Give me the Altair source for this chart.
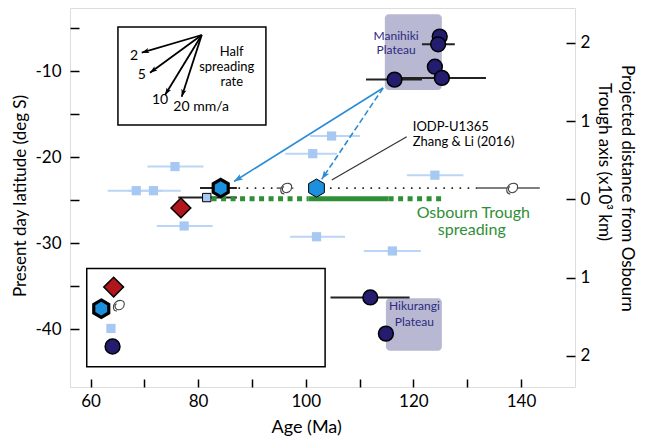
import math
import altair as alt
import pandas as pd

# ---------------- data (age in Ma, present-day latitude in deg) ----------------
man_age = [124.9, 124.6, 124.0, 125.3, 116.5]
man_lat = [-6.0, -6.9, -9.5, -10.8, -11.0]
man_bar_lat = [-6.9, -10.8, -11.0]
man_bar_lo = [121.6, 117.8, 111.2]
man_bar_hi = [127.7, 133.5, 121.6]

hik_age = [112.0, 114.9]
hik_lat = [-36.3, -40.5]
hik_bar_lat = [-36.3]
hik_bar_lo = [104.6]
hik_bar_hi = [119.3]

sq_age = [75.7, 68.5, 71.7, 77.4, 101.3, 104.8, 124.0, 102.0, 116.1]
sq_lat = [-21.1, -23.9, -23.9, -28.0, -19.6, -17.55, -22.1, -29.25, -30.9]
sq_lo = [70.6, 63.2, 67.0, 72.3, 96.2, 100.8, 118.8, 97.1, 110.8]
sq_hi = [81.0, 73.5, 76.8, 82.7, 105.8, 110.1, 129.3, 107.3, 121.4]

osq_age = [81.6]
osq_lat = [-24.7]
osq_lo = [76.3]
osq_hi = [87.2]

dia_age = [76.8]
dia_lat = [-25.9]

hex_age = [84.2, 102.0]
hex_lat = [-23.6, -23.6]
hex_bar_lo = [80.35]
hex_bar_hi = [87.2]

cell_age = [96.3, 138.3]
cell_lat = [-23.6, -23.6]
cell_lo = [94.6, 131.8]
cell_hi = [97.7, 143.5]

dot_lo = [87.5, 104.5]
dot_hi = [94.6, 131.8]
dot_lat = [-23.6, -23.6]

osb_lat = -24.85
osb_dash_lo = [82.5, 115.4]
osb_dash_hi = [100.5, 125.3]
osb_solid_lo = [100.5]
osb_solid_hi = [115.4]

plat_names = ["Manihiki", "Hikurangi"]
plat_age_lo = [114.7, 114.9]
plat_age_hi = [125.3, 125.3]
plat_lat_top = [-3.4, -36.4]
plat_lat_bot = [-12.2, -42.5]

box_age_lo = [65.1, 59.3]
box_age_hi = [92.6, 103.6]
box_lat_top = [-4.9, -32.94]
box_lat_bot = [-16.27, -44.34]

# legend symbols (inside lower-left box)
leg_dia = (64.3, -35.1)
leg_hex = (62.0, -37.6)
leg_cell = (65.2, -37.2)
leg_sq = (63.8, -39.9)
leg_circ = (64.1, -42.0)

# half-spreading-rate arrows
rate_origin = (80.67, -5.82)
rate_tip_age = [69.52, 71.06, 73.85, 76.95]
rate_tip_lat = [-7.87, -10.2, -12.79, -12.98]
rate_lab = ["2", "5", "10"]
rate_lab_age = [68.09, 69.52, 72.92]
rate_lab_lat = [-8.26, -10.46, -13.37]

# blue arrows from Manihiki Plateau
blue_start = (114.37, -11.97)
blue_tip_age = [86.67, 102.97]
blue_tip_lat = [-22.83, -22.58]

iodp_line = (104.83, -22.66, 118.77, -17.63)

x_ticks = [60, 70, 80, 90, 100, 110, 120, 130, 140]
y_ticks = [-5, -10, -15, -20, -25, -30, -35, -40]
r_ticks = [2, 1, 0, -1, -2]

# ---------------- layout / style ----------------
W, H = 505, 379
XDOM = [56.19, 150.04]
YDOM = [-46.70, -2.683]
RDOM = [-2.400, 2.446]
FONT = "Lato"
NAVY = "#241c6e"
PLAT = "#b8b8d2"
PTXT = "#2d2a80"
LBLUE = "#a6c8f3"
LBAR = "#bad5f5"
RED = "#b0161b"
CYAN = "#1d8fdf"
GREEN = "#2f8f36"
ARROW = "#2a8cd6"
HEX = "M0,-1L0.866,-0.5L0.866,0.5L0,1L-0.866,0.5L-0.866,-0.5Z"
CELL = ("M-0.25,0.95C-0.95,0.95 -1,0.1 -0.5,-0.45C0,-0.95 0.95,-0.9 0.95,-0.2"
        "C0.95,0.5 0.25,0.95 -0.3,0.65C-0.7,0.4 -0.6,-0.15 -0.3,-0.25")
HEAD = "M0,0L0.6,1.7L0,1.3L-0.6,1.7Z"

kx = W / (XDOM[1] - XDOM[0])
ky = H / (YDOM[1] - YDOM[0])


def ang(a0, l0, a1, l1):
    dx = (a1 - a0) * kx
    dy = -(l1 - l0) * ky
    return math.degrees(math.atan2(dx, -dy)) % 360


xs = alt.Scale(domain=XDOM, nice=False, zero=False)
ys = alt.Scale(domain=YDOM, nice=False, zero=False)

AXX = alt.Axis(values=x_ticks, title=None, orient="bottom", domain=False, grid=False,
               tickSize=8, offset=-8, tickColor="black", tickWidth=1.5,
               labelExpr="datum.value % 20 == 0 ? datum.label : ''",
               labelPadding=6, labelFont=FONT, labelFontSize=17, labelColor="black")
AXY = alt.Axis(values=y_ticks, title=None, orient="left", domain=False, grid=False,
               tickSize=9, offset=-9, tickColor="black", tickWidth=1.5,
               labelExpr="datum.value % 10 == 0 ? '-' + abs(datum.value) : ''",
               labelPadding=9, labelFont=FONT, labelFontSize=17, labelColor="black")


def X(f):
    return alt.X(f, type="quantitative", scale=xs, axis=AXX)


def Y(f):
    return alt.Y(f, type="quantitative", scale=ys, axis=AXY)


def C(d):
    return alt.Chart(pd.DataFrame(d))


layers = []

# plateau boxes
layers.append(
    C({"lo": plat_age_lo, "hi": plat_age_hi, "t": plat_lat_top, "b": plat_lat_bot})
    .mark_rect(color=PLAT, cornerRadius=4)
    .encode(x=X("lo"), x2="hi:Q", y=Y("t"), y2="b:Q")
)

# inset / legend boxes
layers.append(
    C({"lo": box_age_lo, "hi": box_age_hi, "t": box_lat_top, "b": box_lat_bot})
    .mark_rect(fill="white", stroke="black", strokeWidth=1.5)
    .encode(x=X("lo"), x2="hi:Q", y=Y("t"), y2="b:Q")
)

# error bars
layers.append(C({"lo": sq_lo, "hi": sq_hi, "lat": sq_lat}).mark_rule(color=LBAR, strokeWidth=2)
              .encode(x=X("lo"), x2="hi:Q", y=Y("lat")))
layers.append(C({"lo": cell_lo, "hi": cell_hi, "lat": cell_lat}).mark_rule(color="#555555", strokeWidth=1.5)
              .encode(x=X("lo"), x2="hi:Q", y=Y("lat")))
layers.append(C({"lo": dot_lo, "hi": dot_hi, "lat": dot_lat})
              .mark_rule(color="#222222", strokeWidth=1.6, strokeDash=[1.6, 6.5])
              .encode(x=X("lo"), x2="hi:Q", y=Y("lat")))
blk_lo = man_bar_lo + hik_bar_lo + osq_lo + hex_bar_lo
blk_hi = man_bar_hi + hik_bar_hi + osq_hi + hex_bar_hi
blk_lat = man_bar_lat + hik_bar_lat + osq_lat + [hex_lat[0]]
layers.append(C({"lo": blk_lo, "hi": blk_hi, "lat": blk_lat}).mark_rule(color="#222222", strokeWidth=2)
              .encode(x=X("lo"), x2="hi:Q", y=Y("lat")))

# Osbourn Trough spreading
layers.append(C({"lo": osb_dash_lo, "hi": osb_dash_hi, "lat": [osb_lat] * 2})
              .mark_rule(color=GREEN, strokeWidth=5, strokeDash=[5, 4.5])
              .encode(x=X("lo"), x2="hi:Q", y=Y("lat")))
layers.append(C({"lo": osb_solid_lo, "hi": osb_solid_hi, "lat": [osb_lat]})
              .mark_rule(color=GREEN, strokeWidth=5)
              .encode(x=X("lo"), x2="hi:Q", y=Y("lat")))

# IODP pointer line
layers.append(C({"a": [iodp_line[0]], "l": [iodp_line[1]], "a2": [iodp_line[2]], "l2": [iodp_line[3]]})
              .mark_rule(color="#333333", strokeWidth=1.2)
              .encode(x=X("a"), y=Y("l"), x2="a2:Q", y2="l2:Q"))

# blue arrows (lines)
layers.append(C({"a": [blue_start[0]], "l": [blue_start[1]], "a2": [blue_tip_age[0]], "l2": [blue_tip_lat[0]]})
              .mark_rule(color=ARROW, strokeWidth=1.6)
              .encode(x=X("a"), y=Y("l"), x2="a2:Q", y2="l2:Q"))
layers.append(C({"a": [blue_start[0]], "l": [blue_start[1]], "a2": [blue_tip_age[1]], "l2": [blue_tip_lat[1]]})
              .mark_rule(color=ARROW, strokeWidth=1.6, strokeDash=[6, 3])
              .encode(x=X("a"), y=Y("l"), x2="a2:Q", y2="l2:Q"))

# half spreading rate arrows (lines)
layers.append(C({"a": [rate_origin[0]] * 4, "l": [rate_origin[1]] * 4, "a2": rate_tip_age, "l2": rate_tip_lat})
              .mark_rule(color="black", strokeWidth=1.8)
              .encode(x=X("a"), y=Y("l"), x2="a2:Q", y2="l2:Q"))

# symbols
layers.append(C({"a": sq_age + [leg_sq[0]], "l": sq_lat + [leg_sq[1]]})
              .mark_point(shape="square", filled=True, color=LBLUE, size=85, opacity=1)
              .encode(x=X("a"), y=Y("l")))
layers.append(C({"a": osq_age, "l": osq_lat})
              .mark_point(shape="square", filled=True, fill=LBLUE, stroke="black", strokeWidth=1, size=70, opacity=1)
              .encode(x=X("a"), y=Y("l")))
layers.append(C({"a": dia_age + [leg_dia[0]], "l": dia_lat + [leg_dia[1]]})
              .mark_point(shape="diamond", filled=True, fill=RED, stroke="black", strokeWidth=1.5, size=390, opacity=1)
              .encode(x=X("a"), y=Y("l")))
layers.append(C({"a": man_age + hik_age + [leg_circ[0]], "l": man_lat + hik_lat + [leg_circ[1]]})
              .mark_point(shape="circle", filled=True, fill=NAVY, stroke="black", strokeWidth=1.5, size=220, opacity=1)
              .encode(x=X("a"), y=Y("l")))
layers.append(C({"a": [hex_age[0], leg_hex[0]], "l": [hex_lat[0], leg_hex[1]]})
              .mark_point(shape=HEX, filled=True, fill=CYAN, stroke="black", strokeWidth=3.2, size=300, opacity=1)
              .encode(x=X("a"), y=Y("l")))
layers.append(C({"a": [hex_age[1]], "l": [hex_lat[1]]})
              .mark_point(shape=HEX, filled=True, fill=CYAN, stroke="black", strokeWidth=1, size=330, opacity=1)
              .encode(x=X("a"), y=Y("l")))
layers.append(C({"a": cell_age + [leg_cell[0]], "l": cell_lat + [leg_cell[1]]})
              .mark_point(shape=CELL, filled=True, fill="white", stroke="#444444", strokeWidth=1.1, size=150, opacity=1)
              .encode(x=X("a"), y=Y("l")))

# arrow heads
blue_ang = [ang(blue_start[0], blue_start[1], a, l) for a, l in zip(blue_tip_age, blue_tip_lat)]
layers.append(C({"a": blue_tip_age, "l": blue_tip_lat, "ang": blue_ang})
              .mark_point(shape=HEAD, filled=True, color=ARROW, size=110, opacity=1)
              .encode(x=X("a"), y=Y("l"), angle=alt.Angle("ang:Q", scale=None)))
rate_ang = [ang(rate_origin[0], rate_origin[1], a, l) for a, l in zip(rate_tip_age, rate_tip_lat)]
layers.append(C({"a": rate_tip_age, "l": rate_tip_lat, "ang": rate_ang})
              .mark_point(shape=HEAD, filled=True, color="black", size=75, opacity=1)
              .encode(x=X("a"), y=Y("l"), angle=alt.Angle("ang:Q", scale=None)))


# texts in data space
def txt(texts, ages, lats, color="black", size=13, align="center"):
    return (C({"t": texts, "a": ages, "l": lats})
            .mark_text(font=FONT, fontSize=size, color=color, align=align, baseline="middle")
            .encode(x=X("a"), y=Y("l"), text="t:N"))


layers.append(txt(rate_lab, rate_lab_age, rate_lab_lat, size=14))
layers.append(txt(["20 mm/a"], [75.39], [-14.22], size=14, align="left"))
layers.append(txt(["Half", "spreading", "rate"], [86.25, 85.32, 86.25], [-7.76, -9.57, -11.24], size=13))
layers.append(txt(["Manihiki", "Plateau"], [116.8, 116.8], [-5.9, -7.6], color=PTXT, size=12))
layers.append(txt(["Hikurangi", "Plateau"], [120.2, 120.2], [-37.35, -39.1], color=PTXT, size=12))
layers.append(txt(["IODP-U1365", "Zhang & Li (2016)"], [119.89, 119.89], [-16.45, -18.3], size=13, align="left"))
layers.append(txt(["Osbourn Trough", "spreading"], [131.15, 130.86], [-26.46, -28.47], color=GREEN, size=16))


# axis titles as text
def ptxt(t, x, y, angle=0, align="center", size=18):
    kw = dict(font=FONT, fontSize=size, color="black", align=align, baseline="middle")
    if angle:
        kw["angle"] = angle
    return (C({"t": [t]}).mark_text(**kw)
            .encode(text="t:N", x=alt.value(x), y=alt.value(y)))


layers.append(ptxt("Age (Ma)", 236.7, 420))
layers.append(ptxt("Present day latitude (deg S)", -49, 188, angle=270, size=17))
layers.append(ptxt("Projected distance from Osbourn", 557, 57, angle=90, align="left", size=17))
layers.append(ptxt("Trough axis (x10³ km)", 534, 75, angle=90, align="left", size=17))

main = alt.layer(*layers)

right = (
    C({"d": r_ticks})
    .mark_point(opacity=0)
    .encode(y=alt.Y("d:Q", scale=alt.Scale(domain=RDOM, nice=False, zero=False),
                    axis=alt.Axis(values=r_ticks, title=None, orient="right", domain=False, grid=False,
                                  tickSize=9, offset=-9, tickColor="black", tickWidth=1.5,
                                  labelExpr="'' + abs(datum.value)", labelPadding=5,
                                  labelFont=FONT, labelFontSize=17, labelColor="black")))
)

chart = (
    alt.layer(main, right)
    .resolve_scale(y="independent")
    .properties(width=W, height=H, padding={"left": 62, "top": 0, "right": 63, "bottom": 49},
                autosize=alt.AutoSizeParams(type="none"))
    .configure_view(stroke="black", strokeWidth=1.5)
    .configure(background="white")
)

chart.save("out.html", embed_options={"renderer": "svg", "actions": False})
